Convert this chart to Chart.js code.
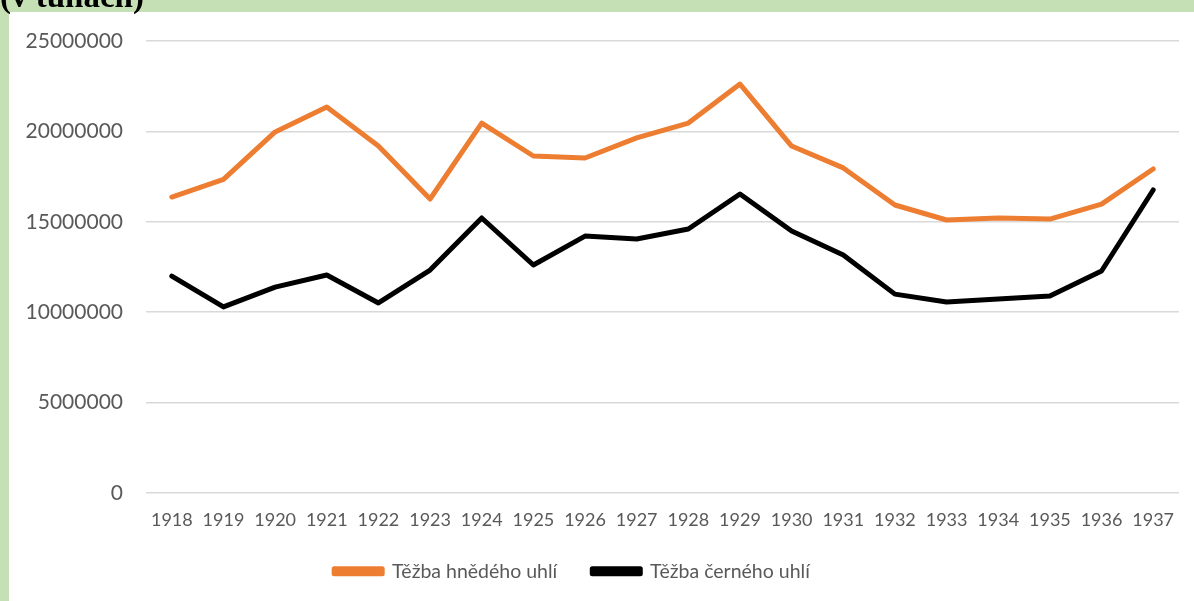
<!DOCTYPE html>
<html>
<head>
<meta charset="utf-8">
<script src="https://cdn.jsdelivr.net/npm/chart.js@4"></script>
<style>
  body { margin: 0; background: #c5e0b4; width: 1194px; height: 601px; overflow: hidden; position: relative; }
  #title { position: absolute; left: 0; top: -20px; font: bold 33px "Liberation Serif", serif; line-height: 1; color: #000; z-index: 2; white-space: nowrap; }
  #box { position: absolute; left: 9px; top: 12px; width: 1185px; height: 589px; background: #fff; }
</style>
</head>
<body>
<div id="title">(v tunách)</div>
<div id="box"><canvas id="myChart"></canvas></div>
<script>
// roky
const years = ["1918", "1919", "1920", "1921", "1922", "1923", "1924", "1925", "1926", "1927",
  "1928", "1929", "1930", "1931", "1932", "1933", "1934", "1935", "1936", "1937"];

// těžba hnědého uhlí (t)
const brownCoal = [16370000, 17350000, 19970000, 21350000, 19190000, 16260000, 20460000, 18640000, 18530000, 19640000,
  20460000, 22620000, 19190000, 17980000, 15930000, 15100000, 15210000, 15150000, 15980000, 17920000];

// těžba černého uhlí (t)
const blackCoal = [12000000, 10290000, 11390000, 12060000, 10510000, 12330000, 15210000, 12610000, 14210000, 14050000,
  14600000, 16540000, 14490000, 13160000, 11000000, 10560000, 10730000, 10900000, 12280000, 16760000];

const yTicks = [0, 5000000, 10000000, 15000000, 20000000, 25000000];

const tickColor = "#595959";

// posun legendy trochu doleva a nahoru (jako v originále)
const legendShift = {
  id: "legendShift",
  afterLayout(chart) {
    chart.legend.left -= 22;
    chart.legend.right -= 22;
    chart.legend.top -= 10;
    chart.legend.bottom -= 10;
  },
};

window.addEventListener("DOMContentLoaded", () => {
  const ctx = document.getElementById("myChart").getContext("2d");
  new Chart(ctx, {
    type: "line",
    data: {
      labels: years,
      datasets: [
        {
          label: "Těžba hnědého uhlí",
          data: brownCoal,
          borderColor: "#ed7d31",
          backgroundColor: "#ed7d31",
          borderWidth: 5,
          pointRadius: 0,
          tension: 0,
          fill: false,
          borderCapStyle: "round",
          borderJoinStyle: "round",
        },
        {
          label: "Těžba černého uhlí",
          data: blackCoal,
          borderColor: "#000000",
          backgroundColor: "#000000",
          borderWidth: 5,
          pointRadius: 0,
          tension: 0,
          fill: false,
          borderCapStyle: "round",
          borderJoinStyle: "round",
        },
      ],
    },
    plugins: [legendShift],
    options: {
      responsive: true,
      maintainAspectRatio: false,
      animation: false,
      layout: { padding: { left: 0, right: 15, top: 29, bottom: 0 } },
      plugins: {
        tooltip: { enabled: false },
        legend: {
          position: "bottom",
          labels: {
            boxWidth: 48,
            boxHeight: 5,
            padding: 35,
            color: tickColor,
            font: { family: "Lato", size: 19.5 },
          },
        },
      },
      scales: {
        x: {
          offset: true,
          grid: { display: false, drawTicks: false },
          border: { display: false },
          ticks: { color: tickColor, padding: 16, maxRotation: 0, font: { family: "Lato", size: 18 } },
          afterFit: (axis) => { axis.height = 43.5; },
        },
        y: {
          min: 0,
          max: 25000000,
          afterBuildTicks: (axis) => { axis.ticks = yTicks.map(v => ({ value: v })); },
          grid: { color: "#d9d9d9", lineWidth: 1.5, drawTicks: false },
          border: { display: false },
          ticks: { color: tickColor, padding: 23, font: { family: "Lato", size: 21 }, callback: (v) => String(v) },
          afterFit: (axis) => {
            axis.width = 137;
            axis.paddingTop = 0;
            axis.paddingBottom = 0;
          },
        },
      },
    },
  });
});
</script>
</body>
</html>
